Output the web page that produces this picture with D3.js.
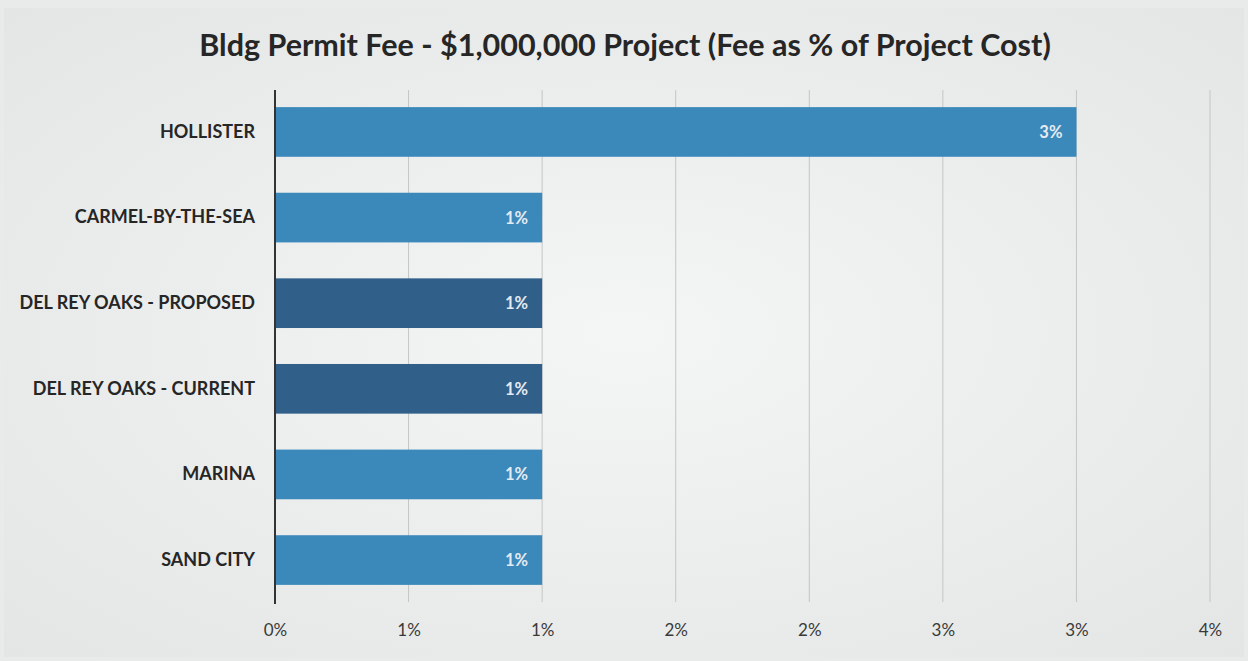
<!DOCTYPE html>
<html>
<head>
<meta charset="utf-8">
<script src="https://cdn.jsdelivr.net/npm/d3@7"></script>
<style>
  body { margin: 0; background: #e9ebeb; }
  svg { display: block; }
</style>
</head>
<body>
<script>
// chart data
var cities = ["HOLLISTER", "CARMEL-BY-THE-SEA", "DEL REY OAKS - PROPOSED", "DEL REY OAKS - CURRENT", "MARINA", "SAND CITY"];
var feePct = [0.03, 0.01, 0.01, 0.01, 0.01, 0.01];
var highlight = [false, false, true, true, false, false];
var tickValues = [0, 0.005, 0.01, 0.015, 0.02, 0.025, 0.03, 0.035];
var tickLabels = ["0%", "1%", "1%", "2%", "2%", "3%", "3%", "4%"];
var title = "Bldg Permit Fee - $1,000,000 Project (Fee as % of Project Cost)";

var data = cities.map(function (c, i) {
  return { city: c, fee: feePct[i], hi: highlight[i] };
});

var svgWidth = 1248;
var svgHeight = 661;
var margin = { top: 90, right: 38, bottom: 59, left: 275 };
var width = svgWidth - margin.left - margin.right;
var height = svgHeight - margin.top - margin.bottom;

var root = d3.select("body")
  .append("svg")
  .attr("width", svgWidth)
  .attr("height", svgHeight);

// paper-ish background
var grad = root.append("defs").append("radialGradient")
  .attr("id", "bg").attr("cx", "50%").attr("cy", "50%").attr("r", "70%");
grad.append("stop").attr("offset", "0%").attr("stop-color", "#f4f5f5");
grad.append("stop").attr("offset", "100%").attr("stop-color", "#e4e6e6");
root.append("rect").attr("x", 4).attr("y", 8).attr("width", svgWidth - 8).attr("height", svgHeight - 12)
  .attr("fill", "url(#bg)");

root.append("text")
  .attr("x", 625)
  .attr("y", 56)
  .attr("text-anchor", "middle")
  .style("font-family", "Lato, 'Open Sans', sans-serif")
  .style("font-weight", "bold")
  .style("font-size", "30.5px")
  .style("fill", "#262626")
  .text(title);

var svg = root.append("g")
  .attr("transform", "translate(" + margin.left + "," + margin.top + ")");

var x = d3.scaleLinear().domain([0, 0.035]).range([0, width]);
var y = d3.scaleBand().domain(cities).range([0, height]).paddingInner(0.42).paddingOuter(0.2);

// gridlines
svg.append("g")
  .selectAll("line")
  .data(tickValues.slice(1))
  .enter()
  .append("line")
  .attr("x1", function (d) { return x(d); })
  .attr("x2", function (d) { return x(d); })
  .attr("y1", 0)
  .attr("y2", height)
  .attr("stroke", "#c4c6c6")
  .attr("stroke-width", 1);

// bottom tick labels
var bottomAxis = d3.axisBottom(x)
  .tickValues(tickValues)
  .tickSize(0)
  .tickPadding(22)
  .tickFormat(function (d, i) { return tickLabels[i]; });

var xg = svg.append("g")
  .attr("transform", "translate(0," + height + ")")
  .call(bottomAxis);
xg.select(".domain").remove();
xg.selectAll("text")
  .style("font-family", "Lato, 'Open Sans', sans-serif")
  .style("font-size", "17px")
  .style("fill", "#3a3a3a");

// bars
var node = svg.selectAll(".bar")
  .data(data)
  .enter()
  .append("g")
  .attr("class", "bar");

node.append("rect")
  .attr("x", 0)
  .attr("y", function (d) { return y(d.city); })
  .attr("width", function (d) { return x(d.fee); })
  .attr("height", y.bandwidth())
  .attr("fill", function (d) { return d.hi ? "#30608a" : "#3b88ba"; });

node.append("text")
  .attr("x", function (d) { return x(d.fee) - 14; })
  .attr("y", function (d) { return y(d.city) + y.bandwidth() / 2 + 6; })
  .attr("text-anchor", "end")
  .style("font-family", "Lato, 'Open Sans', sans-serif")
  .style("font-weight", "bold")
  .style("font-size", "16.5px")
  .style("fill", "#e4ebf2")
  .text(function (d) { return Math.round(d.fee * 100) + "%"; });

// left axis
var leftAxis = d3.axisLeft(y).tickSize(0).tickPadding(20);
var yg = svg.append("g").call(leftAxis);
yg.select(".domain").remove();
yg.selectAll("text")
  .style("font-family", "Lato, 'Open Sans', sans-serif")
  .style("font-weight", "bold")
  .style("font-size", "18px")
  .style("fill", "#262626");

svg.append("line")
  .attr("x1", 0).attr("x2", 0)
  .attr("y1", 0).attr("y2", height + 2)
  .attr("stroke", "#333")
  .attr("stroke-width", 2);
</script>
</body>
</html>
